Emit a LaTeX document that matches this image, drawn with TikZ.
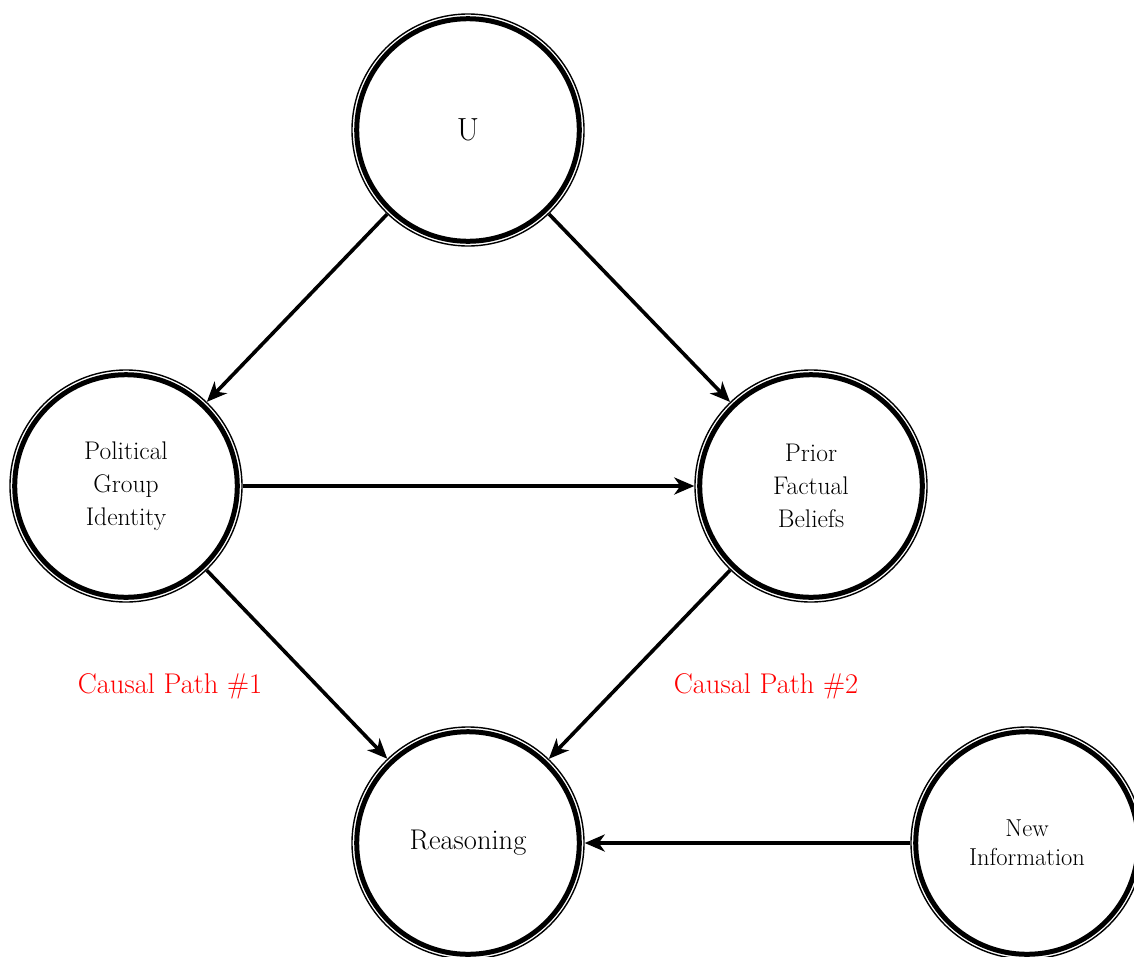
\documentclass[tikz,border=0pt]{standalone}
\usetikzlibrary{arrows.meta}
\begin{document}
\begin{tikzpicture}[x=1pt,y=-1pt,
  var/.style={circle, draw, line width=1.4pt, minimum size=232pt, inner sep=0pt, align=center},
  inner ring/.style={line width=5pt},
  edge/.style={line width=3.6pt, -{Stealth[length=20pt,width=17pt,inset=6pt]}},
  pathlabel/.style={text=red, font=\fontsize{28.5}{33}\selectfont}]
\useasboundingbox (0,0) rectangle (1134,956);
\node[var, font=\fontsize{32}{36}\selectfont] (u) at (468,130) {U};
\node[var, font=\fontsize{25.5}{33}\selectfont] (pgi) at (126,486) {Political\\Group\\Identity};
\node[var, font=\fontsize{25.5}{33}\selectfont] (pfb) at (811,486) {Prior\\Factual\\Beliefs};
\node[var, font=\fontsize{28.5}{31}\selectfont] (r) at (468,843) {Reasoning};
\node[var, font=\fontsize{24.5}{29}\selectfont] (ni) at (1027,843) {New\\Information};
\foreach \n in {u,pgi,pfb,r,ni}{\draw[inner ring] (\n.center) circle (111.3pt);}
\draw[edge] (u) -- (pgi);
\draw[edge] (u) -- (pfb);
\draw[edge] (pgi) -- (pfb);
\draw[edge] (pgi) -- (r);
\draw[edge] (pfb) -- (r);
\draw[edge] (ni) -- (r);
\node[pathlabel] (c1) at (170,686) {Causal Path \#1};
\node[pathlabel] (c2) at (766,686) {Causal Path \#2};
\end{tikzpicture}
\end{document}
